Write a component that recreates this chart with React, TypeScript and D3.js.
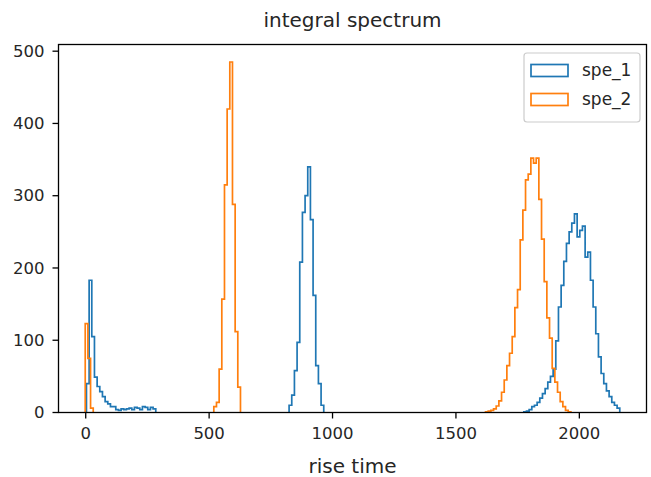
import React from "react";
import * as d3 from "d3";

// ---- data ----
const seriesNames = ["spe_1", "spe_2"];
const seriesColors = ["#1f77b4", "#ff7f0e"];
const binWidth = 10.8;

// spe_1 segments: start value + counts per bin
const spe1LowStart = 3;
const spe1Low = [40, 183, 105, 49, 36, 29, 22, 15, 12, 8, 8, 4, 3, 5, 4, 5, 6, 4, 7, 6, 4, 8, 7, 4, 7, 5];
const spe1MidStart = 824;
const spe1Mid = [10, 24, 58, 97, 208, 277, 300, 340, 267, 162, 65, 40, 10];
const spe1HighStart = 1775;
const spe1High = [1, 2, 4, 8, 10, 14, 20, 26, 33, 42, 50, 60, 99, 146, 176, 209, 234, 250, 262, 275, 243, 252, 258, 215, 222, 183, 146, 109, 77, 54, 40, 30, 22, 14, 10, 6];

// spe_2 segments
const spe2LowStart = -2;
const spe2Low = [123, 75, 6];
const spe2MidStart = 519;
const spe2Mid = [8, 14, 60, 157, 315, 420, 485, 288, 112, 35];
const spe2HighStart = 1620;
const spe2High = [1, 2, 3, 5, 9, 16, 28, 45, 65, 82, 105, 145, 170, 239, 280, 322, 330, 352, 345, 352, 295, 240, 181, 131, 103, 61, 42, 28, 15, 8, 3, 1];

const xTicks = [0, 500, 1000, 1500, 2000];
const yTicks = [0, 100, 200, 300, 400, 500];
const titleText = "integral spectrum";
const xLabelText = "rise time";

type Seg = { start: number; counts: number[] };
const series: Seg[][] = [
  [
    { start: spe1LowStart, counts: spe1Low },
    { start: spe1MidStart, counts: spe1Mid },
    { start: spe1HighStart, counts: spe1High },
  ],
  [
    { start: spe2LowStart, counts: spe2Low },
    { start: spe2MidStart, counts: spe2Mid },
    { start: spe2HighStart, counts: spe2High },
  ],
];

const W = 651;
const H = 477;
const left = 58.5;
const right = 646.5;
const top = 44.5;
const bottom = 412.5;
const font = "DejaVu Sans, sans-serif";
const textColor = "#262626";

export default function App() {
  const allSegs = series.flat();
  const xMin = d3.min(allSegs, (s) => s.start)!;
  const xMax = d3.max(allSegs, (s) => s.start + s.counts.length * binWidth)!;
  const pad = (xMax - xMin) * 0.05;
  const yMax = d3.max(allSegs, (s) => d3.max(s.counts)!)!;

  const x = d3.scaleLinear().domain([xMin - pad, xMax + pad]).range([left, right]);
  const y = d3.scaleLinear().domain([0, yMax * 1.05]).range([bottom, top]);

  const line = d3
    .line<[number, number]>()
    .x((d) => x(d[0]))
    .y((d) => y(d[1]))
    .curve(d3.curveStepAfter);

  const segPath = (s: Seg) => {
    const pts: [number, number][] = [[s.start, 0]];
    s.counts.forEach((c, i) => pts.push([s.start + i * binWidth, c]));
    pts.push([s.start + s.counts.length * binWidth, 0]);
    return line(pts) || "";
  };

  const cx = (left + right) / 2;

  return (
    <svg width={W} height={H} style={{ position: "absolute", left: 0, top: 0, background: "#fff" }}>
      <rect x={0} y={0} width={W} height={H} fill="#fff" />
      <defs>
        <clipPath id="plotclip">
          <rect x={left} y={top} width={right - left} height={bottom - top} />
        </clipPath>
      </defs>
      <g clipPath="url(#plotclip)">
        {series.map((segs, si) => (
          <g key={si}>
            {segs.map((s, k) => (
              <path
                key={k}
                d={segPath(s)}
                fill="none"
                stroke={seriesColors[si]}
                strokeWidth={1.7}
                strokeLinejoin="miter"
              />
            ))}
          </g>
        ))}
      </g>
      {/* spines */}
      <rect x={left} y={top} width={right - left} height={bottom - top} fill="none" stroke="#000" strokeWidth={1.3} />
      {/* x ticks */}
      {xTicks.map((t) => (
        <g key={t} transform={`translate(${x(t)},${bottom})`}>
          <line y1={0} y2={6} stroke="#000" strokeWidth={1.3} />
          <text y={26} textAnchor="middle" fontFamily={font} fontSize={16.5} fill={textColor}>
            {t}
          </text>
        </g>
      ))}
      {/* y ticks */}
      {yTicks.map((t) => (
        <g key={t} transform={`translate(${left},${y(t)})`}>
          <line x1={0} x2={-6} stroke="#000" strokeWidth={1.3} />
          <text x={-14} dy="0.35em" textAnchor="end" fontFamily={font} fontSize={16.5} fill={textColor}>
            {t}
          </text>
        </g>
      ))}
      <text x={cx} y={27} textAnchor="middle" fontFamily={font} fontSize={20} fill={textColor}>
        {titleText}
      </text>
      <text x={cx} y={473} textAnchor="middle" fontFamily={font} fontSize={20} fill={textColor}>
        {xLabelText}
      </text>
      {/* legend */}
      <g>
        <rect x={524} y={53} width={116} height={69} rx={3} fill="#fff" fillOpacity={0.8} stroke="#ccc" strokeWidth={1.2} />
        {seriesNames.map((n, i) => (
          <g key={n} transform={`translate(0,${i * 29})`}>
            <rect x={531} y={64.5} width={37} height={12} fill="none" stroke={seriesColors[i]} strokeWidth={1.7} />
            <text x={582} y={70.5} dy="0.35em" fontFamily={font} fontSize={17} fill={textColor}>
              {n}
            </text>
          </g>
        ))}
      </g>
    </svg>
  );
}
